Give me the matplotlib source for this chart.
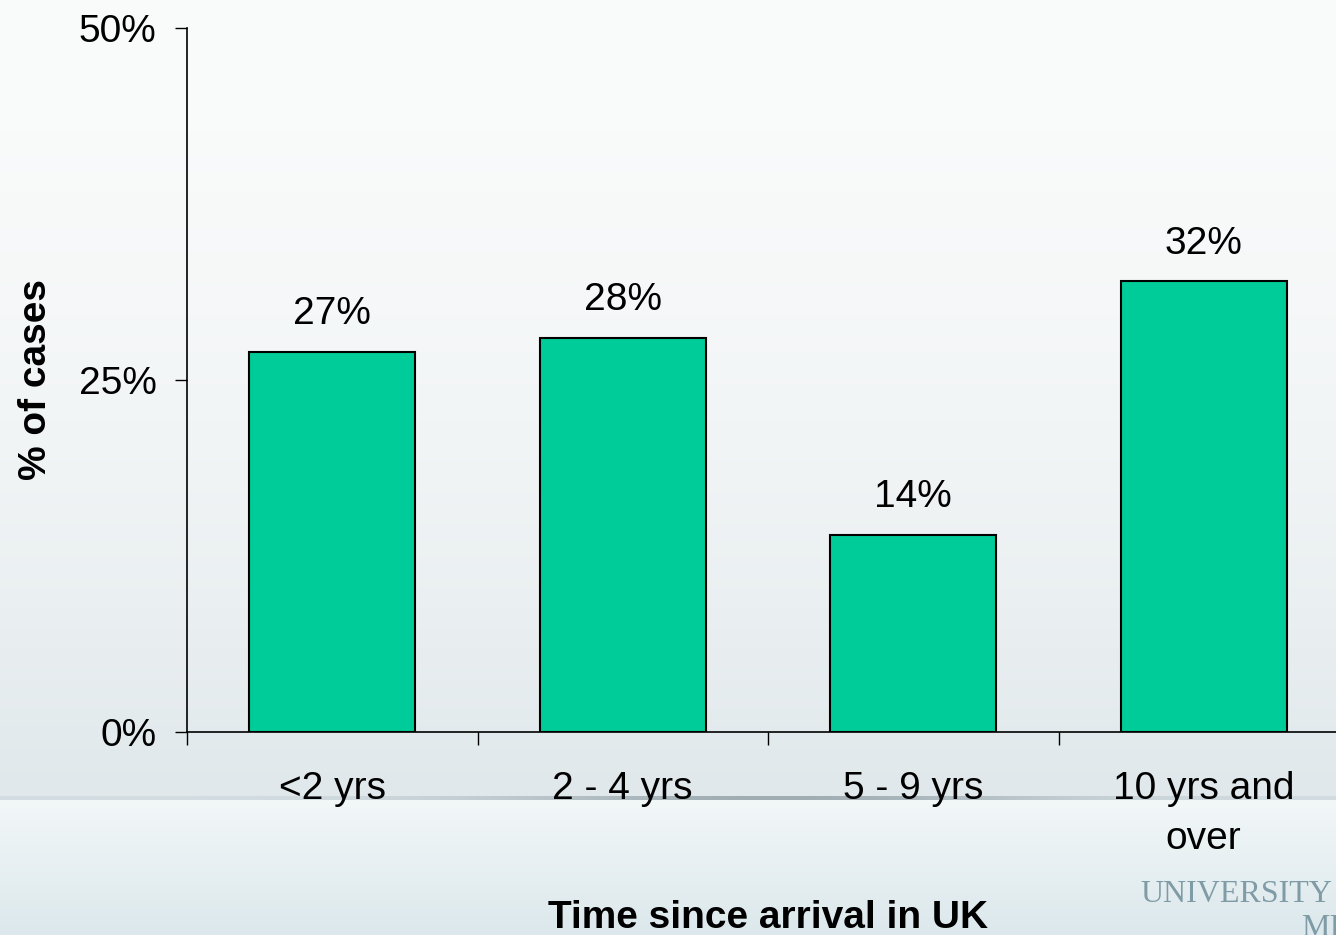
import numpy as np
import matplotlib
matplotlib.use("Agg")
import matplotlib.pyplot as plt

plt.rcParams['font.family'] = ['Liberation Sans', 'DejaVu Sans']

categories = ["<2 yrs", "2 - 4 yrs", "5 - 9 yrs", "10 yrs and\nover"]
values = [27, 28, 14, 32]
yticks = [0, 25, 50]

fig = plt.figure(figsize=(13.36, 9.35), dpi=100)

# slide background: soft vertical gradient with a thin horizontal rule
bg = fig.add_axes([0, 0, 1, 1], zorder=-10)
bg.set_axis_off()
rows, cols = 935, 200
img = np.zeros((rows, cols, 3))
top = np.array([250, 251, 251]) / 255.0
mid = np.array([224, 232, 235]) / 255.0
low_top = np.array([242, 247, 248]) / 255.0
low_bot = np.array([220, 232, 236]) / 255.0
xs = np.linspace(0, 1, cols)
dark = np.exp(-((xs - 0.58) / 0.22) ** 2)
for i in range(rows):
    if i < 796:
        t = (i / 796.0) ** 1.8
        img[i, :] = top * (1 - t) + mid * t
    elif i < 800:
        line = np.array([212, 222, 226]) / 255.0
        deep = np.array([160, 174, 180]) / 255.0
        img[i, :] = line * (1 - dark[:, None]) + deep * dark[:, None]
    else:
        t = (i - 800) / (rows - 800.0)
        img[i, :] = low_top * (1 - t) + low_bot * t
bg.imshow(img, aspect='auto', extent=[0, 1, 0, 1], origin='upper', interpolation='bilinear')
bg.set_xlim(0, 1)
bg.set_ylim(0, 1)

serif = ['Liberation Serif', 'DejaVu Serif']
bg.text(0.997, 0.035, "UNIVERSITY", fontsize=23, family=serif,
        color='#7f9ca6', ha='right', va='baseline')
bg.text(1.003, -0.001, "MI", fontsize=23, family=serif,
        color='#7f9ca6', ha='right', va='baseline')

ax = fig.add_axes([187 / 1336, 1 - 732 / 935, 1162 / 1336, (732 - 28) / 935])
ax.patch.set_alpha(0)

x = np.arange(len(categories))
bars = ax.bar(x, values, width=0.57, color='#00cc99', edgecolor='black', linewidth=1.5)
for b, v in zip(bars, values):
    ax.annotate("%d%%" % v, (b.get_x() + b.get_width() / 2, v), xytext=(0, 14),
                textcoords='offset points', ha='center', va='bottom', fontsize=28)

ax.set_xlim(-0.5, len(categories) - 0.5)
ax.set_ylim(0, 50)
ax.set_yticks(yticks)
ax.set_yticklabels(["%d%%" % t for t in yticks])
ax.tick_params(axis='y', direction='out', length=9, width=1, labelsize=28, pad=13)

ax.set_xticks(np.arange(len(categories) + 1) - 0.5)
ax.set_xticklabels([])
ax.tick_params(axis='x', which='major', direction='out', length=9, width=1)
ax.set_xticks(x, minor=True)
ax.set_xticklabels(categories, minor=True, fontsize=28, linespacing=1.5)
ax.tick_params(axis='x', which='minor', length=0, pad=28)

for s in ['top', 'right']:
    ax.spines[s].set_visible(False)
for s in ['left', 'bottom']:
    ax.spines[s].set_linewidth(1.2)

ax.set_ylabel("% of cases", fontsize=28, fontweight='bold', labelpad=18)
ax.set_xlabel("Time since arrival in UK", fontsize=28, fontweight='bold', labelpad=31)

fig.savefig("out.png", dpi=100)
